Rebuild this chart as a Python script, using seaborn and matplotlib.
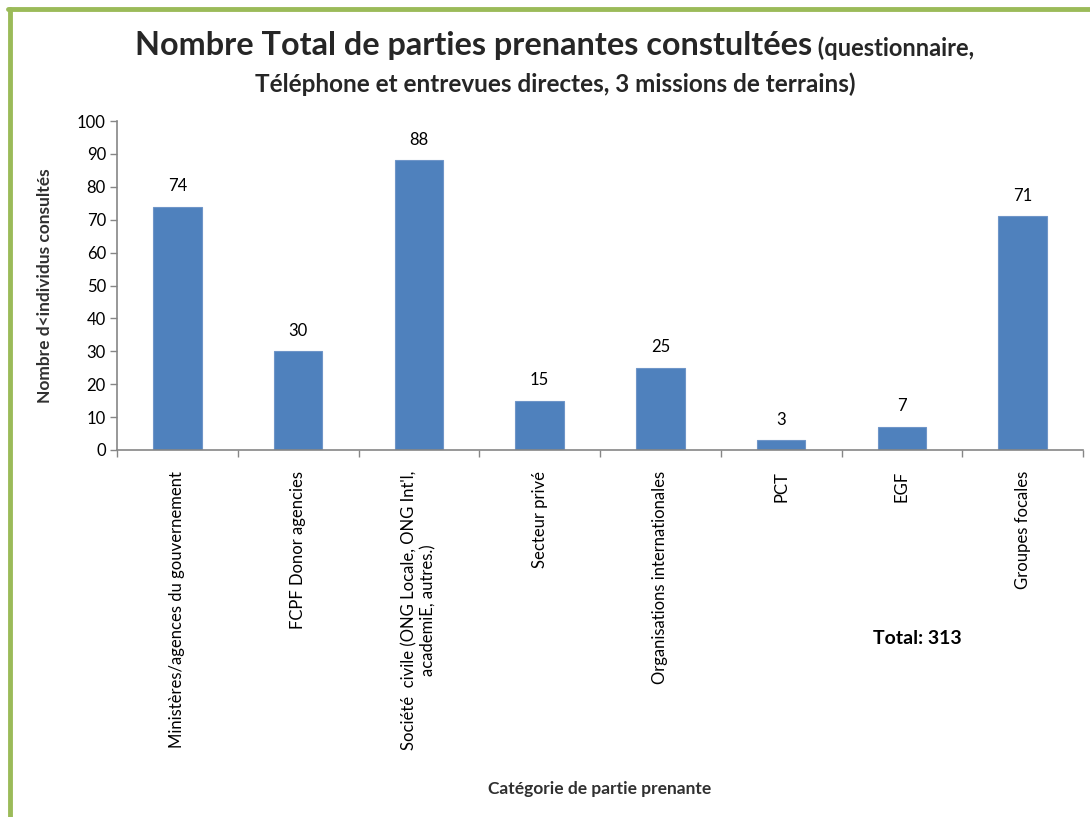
import matplotlib
matplotlib.use("Agg")
import matplotlib.pyplot as plt
import seaborn as sns
import pandas as pd
from matplotlib.lines import Line2D

categories = [
    "Ministères/agences du gouvernement",
    "FCPF Donor agencies",
    "Société  civile (ONG Locale, ONG Int'l,\nacademiE, autres.)",
    "Secteur privé",
    "Organisations internationales",
    "PCT",
    "EGF",
    "Groupes focales",
]
values = [74, 30, 88, 15, 25, 3, 7, 71]
yticks = [0, 10, 20, 30, 40, 50, 60, 70, 80, 90, 100]

title_main = "Nombre Total de parties prenantes constultées"
title_sub = " (questionnaire,"
title_line2 = "Téléphone et entrevues directes, 3 missions de terrains)"
ylabel = "Nombre d<individus consultés"
xlabel = "Catégorie de partie prenante"
total_text = "Total: 313"

sns.set_theme(style="white")
plt.rcParams["font.family"] = ["Lato", "DejaVu Sans"]

df = pd.DataFrame({"cat": categories, "val": values})

W, H = 1090, 817
fig = plt.figure(figsize=(W / 100, H / 100), dpi=100)
fig.patch.set_facecolor("white")
ax = fig.add_axes([117 / W, 1 - 450 / H, (1083 - 117) / W, (450 - 121) / H])

sns.barplot(data=df, x="cat", y="val", color="#4F81BD", saturation=1, width=0.4,
            edgecolor="#6F95C8", linewidth=0.8, ax=ax)

ax.set_xlim(-0.5, len(categories) - 0.5)
ax.set_ylim(0, 100)
ax.set_yticks(yticks)
ax.set_yticklabels([str(t) for t in yticks], fontsize=12, color="black")
ax.set_xticks(range(len(categories)))
ax.set_xticklabels(categories, rotation=90, fontsize=12, va="top", ha="center",
                   multialignment="center", color="black")
ax.set_xticks([i - 0.5 for i in range(len(categories) + 1)], minor=True)
ax.tick_params(axis="x", which="major", length=0, pad=15)
ax.tick_params(axis="x", which="minor", length=5, width=1, color="#868686", direction="out", bottom=True)
ax.tick_params(axis="y", which="major", length=5, width=1, color="#868686", direction="out", left=True, pad=3)

for s in ["top", "right"]:
    ax.spines[s].set_visible(False)
for s in ["left", "bottom"]:
    ax.spines[s].set_color("#868686")
    ax.spines[s].set_linewidth(1.2)
ax.grid(False)
ax.set_xlabel("")
ax.set_ylabel("")

for c in ax.containers:
    ax.bar_label(c, labels=[str(v) for v in values], padding=9, fontsize=12, color="black")

fig.text(45 / W, 1 - 286 / H, ylabel, rotation=90, ha="center", va="center",
         fontsize=12.5, fontweight="bold", color="#303030")
fig.text(600 / W, 1 - 789 / H, xlabel, ha="center", va="center",
         fontsize=12.5, fontweight="bold", color="#303030")
fig.text(917 / W, 1 - 638 / H, total_text, ha="center", va="center",
         fontsize=14, fontweight="bold", color="black")

# Title with mixed font sizes
fig.canvas.draw()
r = fig.canvas.get_renderer()
t1 = fig.text(0, 1 - 46 / H, title_main, ha="left", va="center", fontsize=23.3, fontweight="bold")
t2 = fig.text(0, 1 - 46 / H, title_sub, ha="left", va="center", fontsize=17, fontweight="bold")
w1 = t1.get_window_extent(r).width
w2 = t2.get_window_extent(r).width
x0 = 555 - (w1 + w2) / 2
t1.set_x(x0 / W)
t2.set_x((x0 + w1) / W)
t2.set_y(1 - 48 / H)
fig.text(555 / W, 1 - 84 / H, title_line2, ha="center", va="center", fontsize=17.5, fontweight="bold")

# Green frame lines (left and top)
green = "#9BBB59"
fig.add_artist(Line2D([10 / W, 10 / W], [0, 1 - 9 / H], transform=fig.transFigure, color=green, linewidth=3.5))
fig.add_artist(Line2D([8 / W, 1], [1 - 9 / H, 1 - 9 / H], transform=fig.transFigure, color=green, linewidth=3.5))

fig.savefig("out.png", dpi=100, facecolor="white")
